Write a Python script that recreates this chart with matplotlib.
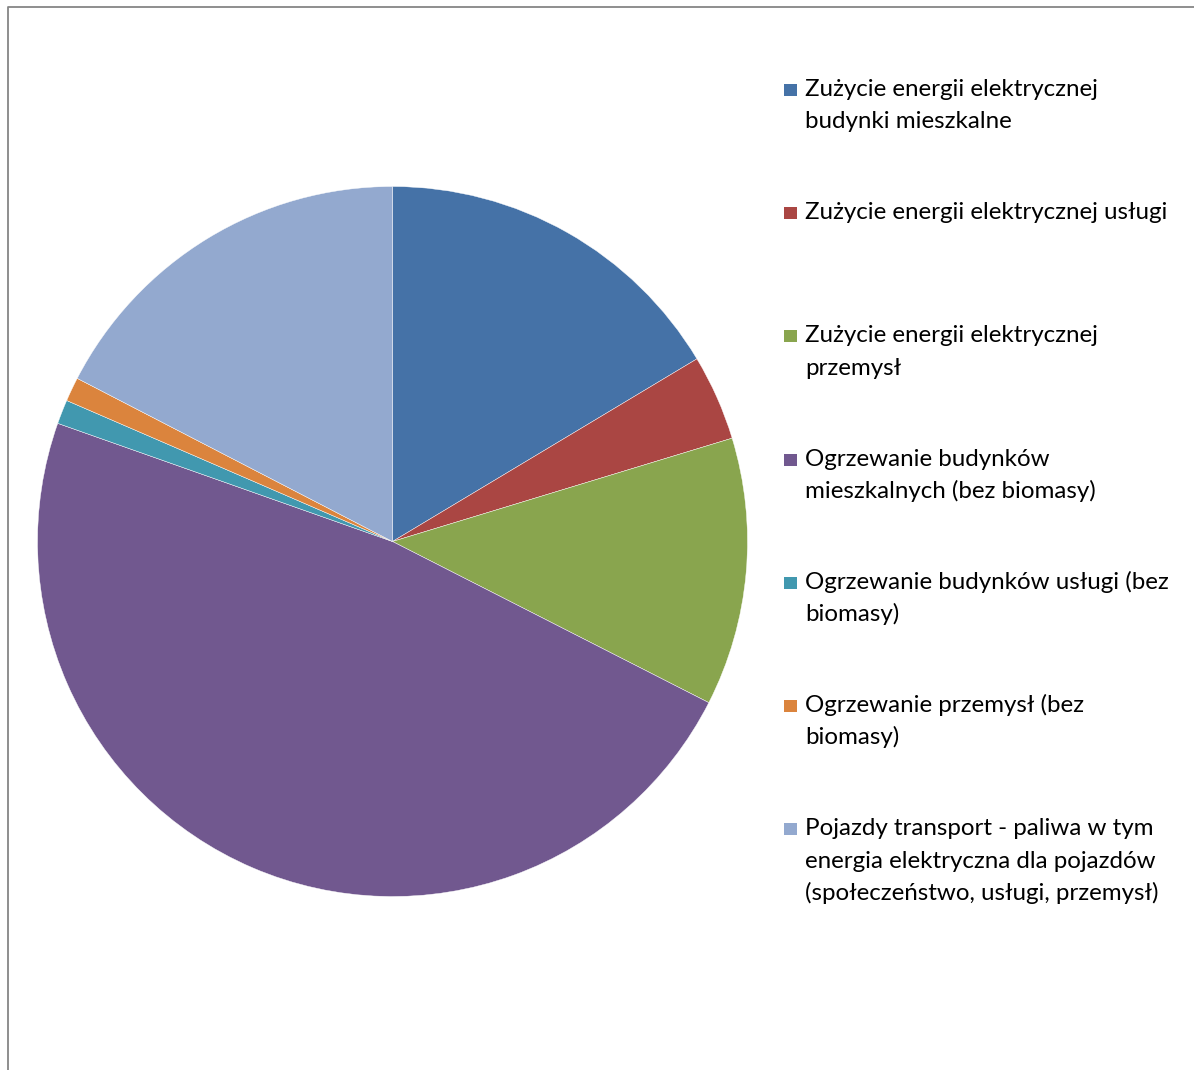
import matplotlib
matplotlib.use("Agg")
import matplotlib.pyplot as plt
from matplotlib.patches import Rectangle
from matplotlib.lines import Line2D

# Data: share of final energy use by category (%)
categories = [
    "Zużycie energii elektrycznej\nbudynki mieszkalne",
    "Zużycie energii elektrycznej usługi",
    "Zużycie energii elektrycznej\nprzemysł",
    "Ogrzewanie budynków\nmieszkalnych (bez biomasy)",
    "Ogrzewanie budynków usługi (bez\nbiomasy)",
    "Ogrzewanie przemysł (bez\nbiomasy)",
    "Pojazdy transport - paliwa w tym\nenergia elektryczna dla pojazdów\n(społeczeństwo, usługi, przemysł)",
]
values = [16.4, 3.9, 12.2, 47.9, 1.1, 1.1, 17.4]
colors = ["#4572A7", "#AA4643", "#89A54E", "#71588F", "#4198AF", "#DB843D", "#93A9CF"]

W, H = 1194, 1070
fig = plt.figure(figsize=(W / 100, H / 100), dpi=100)
fig.patch.set_facecolor("white")


def fx(x):
    return x / W


def fy(y):
    return 1 - y / H


# Pie: centre (392.5, 541.5) px, radius 355 px
cx, cy, r = 392.5, 541.5, 355
ax = fig.add_axes([fx(cx - r), fy(cy + r), 2 * r / W, 2 * r / H])
ax.pie(values, colors=colors, startangle=90, counterclock=False, radius=1,
       wedgeprops=dict(edgecolor="white", linewidth=0.3))
ax.set_xlim(-1, 1)
ax.set_ylim(-1, 1)
ax.set_aspect("auto")
ax.axis("off")

# Chart area border (left and top edges)
fig.add_artist(Line2D([fx(7.5), fx(7.5), fx(W + 5)], [fy(H + 5), fy(6.5), fy(6.5)],
                      transform=fig.transFigure, color="#868686", linewidth=1.3))

# Legend: one marker per entry, each text line placed on its own baseline
font = dict(family=["Lato", "DejaVu Sans"], size=17.4, color="#000000")
base0, step, line_gap = 96, 123.2, 32.5
for i, (lab, col) in enumerate(zip(categories, colors)):
    b = base0 + step * i
    fig.add_artist(Rectangle((fx(784), fy(b)), 13 / W, 12 / H,
                             transform=fig.transFigure, facecolor=col, edgecolor="none"))
    for k, line in enumerate(lab.split("\n")):
        fig.text(fx(805), fy(b + k * line_gap), line, ha="left", va="baseline", **font)

fig.savefig("out.png", dpi=100, facecolor="white")
